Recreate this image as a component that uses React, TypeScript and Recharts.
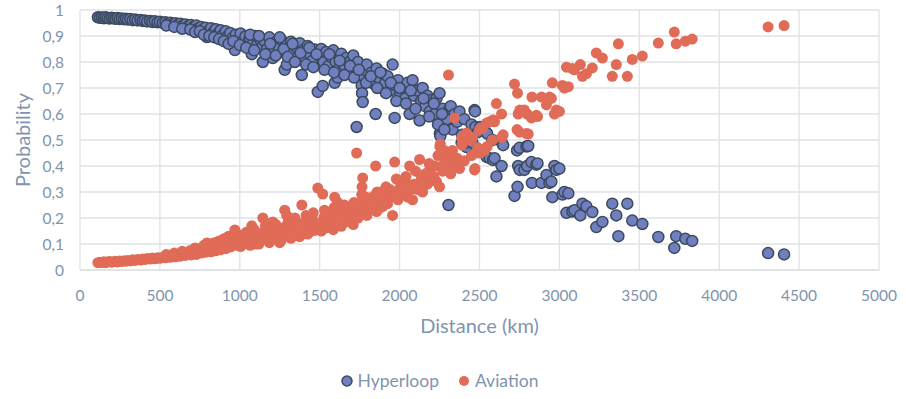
import { CartesianGrid, Legend, Scatter, ScatterChart, XAxis, YAxis } from "recharts";

// distance of each route (km), shared by both series
const distanceKm = [
  112, 125, 138, 150, 160, 172, 185, 198, 210, 222,
  235, 248, 262, 275, 288, 300, 315, 330, 345, 360,
  378, 392, 405, 420, 438, 452, 468, 485, 500, 518,
  535, 550, 565, 580, 598, 612, 628, 645, 660, 678,
  695, 712, 728, 742, 758, 770, 785, 794, 805, 820,
  835, 850, 865, 880, 895, 912, 925, 940, 955, 969,
  975, 990, 1005, 1020, 1035, 1050, 1062, 1075, 1085, 1098,
  1110, 1125, 1140, 1144, 1155, 1170, 1185, 1198, 1206, 1215,
  1230, 1245, 1260, 1270, 1281, 1290, 1294, 1310, 1320, 1335,
  1350, 1362, 1375, 1388, 1395, 1410, 1425, 1440, 1455, 1470,
  1488, 1495, 1510, 1519, 1525, 1540, 1555, 1570, 1585, 1594,
  1600, 1613, 1620, 1635, 1650, 1665, 1680, 1695, 1710, 1720,
  1731, 1740, 1750, 1763, 1765, 1769, 1780, 1795, 1810, 1825,
  1840, 1850, 1856, 1870, 1885, 1895, 1910, 1925, 1940, 1956,
  1969, 1975, 1990, 2005, 2020, 2035, 2050, 2063, 2081, 2090,
  2110, 2125, 2135, 2144, 2160, 2175, 2190, 2205, 2220, 2231,
  2250, 2252, 2255, 2270, 2285, 2294, 2298, 2306, 2313, 2320,
  2331, 2344, 2345, 2360, 2375, 2388, 2390, 2405, 2419, 2420,
  2438, 2450, 2456, 2469, 2472, 2475, 2490, 2500, 2505, 2519,
  2531, 2544, 2548, 2563, 2581, 2585, 2594, 2606, 2638, 2640,
  2648, 2719, 2735, 2738, 2742, 2750, 2752, 2781, 2794, 2798,
  2805, 2825, 2828, 2856, 2863, 2888, 2919, 2938, 2950, 2956,
  2969, 2981, 3000, 3019, 3031, 3044, 3056, 3081, 3094, 3131,
  3144, 3169, 3206, 3231, 3269, 3331, 3356, 3369, 3425, 3456,
  3519, 3619, 3719, 3731, 3788, 3831, 4306, 4406,
  540, 590, 640, 690, 720, 750, 775, 810, 840, 870,
  900, 930, 960, 1000, 1040, 1065, 1090, 1120, 1160, 1190,
  1225, 1250, 1275, 1300, 1330, 1345, 1380, 1415, 1435, 1460,
  1480, 1530, 1560, 1590, 1625, 1655, 1690, 1715, 1745, 1790,
  1820, 1860, 1880, 1915, 1945, 1980, 2000, 2040, 2070, 2100,
  2150, 2185, 2215, 2240, 2265, 2280,
];

const hyperloopProb = [
  0.972, 0.97, 0.971, 0.968, 0.972, 0.969, 0.967, 0.97, 0.968, 0.966,
  0.969, 0.965, 0.967, 0.964, 0.966, 0.963, 0.965, 0.961, 0.963, 0.96,
  0.962, 0.958, 0.96, 0.956, 0.958, 0.954, 0.957, 0.953, 0.955, 0.951,
  0.953, 0.948, 0.951, 0.946, 0.949, 0.943, 0.947, 0.941, 0.944, 0.938,
  0.942, 0.936, 0.94, 0.93, 0.935, 0.925, 0.932, 0.896, 0.92, 0.93,
  0.915, 0.926, 0.91, 0.922, 0.905, 0.918, 0.9, 0.912, 0.893, 0.846,
  0.905, 0.885, 0.91, 0.88, 0.898, 0.872, 0.892, 0.83, 0.878, 0.9,
  0.868, 0.888, 0.858, 0.8, 0.88, 0.85, 0.895, 0.862, 0.815, 0.84,
  0.878, 0.855, 0.885, 0.838, 0.77, 0.868, 0.79, 0.85, 0.878, 0.835,
  0.86, 0.82, 0.872, 0.75, 0.845, 0.815, 0.862, 0.83, 0.805, 0.848,
  0.685, 0.825, 0.85, 0.708, 0.8, 0.838, 0.785, 0.82, 0.845, 0.72,
  0.8, 0.74, 0.775, 0.832, 0.79, 0.815, 0.76, 0.805, 0.825, 0.78,
  0.55, 0.8, 0.745, 0.71, 0.68, 0.646, 0.77, 0.79, 0.735, 0.76,
  0.715, 0.6, 0.775, 0.74, 0.7, 0.755, 0.72, 0.745, 0.69, 0.79,
  0.585, 0.71, 0.73, 0.68, 0.7, 0.66, 0.72, 0.6, 0.73, 0.67,
  0.69, 0.575, 0.65, 0.7, 0.63, 0.67, 0.61, 0.655, 0.6, 0.66,
  0.68, 0.525, 0.515, 0.62, 0.58, 0.56, 0.58, 0.25, 0.62, 0.63,
  0.54, 0.415, 0.6, 0.57, 0.61, 0.49, 0.52, 0.58, 0.473, 0.49,
  0.5, 0.56, 0.49, 0.615, 0.61, 0.55, 0.53, 0.46, 0.55, 0.455,
  0.54, 0.435, 0.525, 0.43, 0.5, 0.423, 0.43, 0.36, 0.4, 0.49,
  0.48, 0.285, 0.46, 0.32, 0.4, 0.47, 0.385, 0.385, 0.475, 0.4,
  0.477, 0.415, 0.335, 0.405, 0.41, 0.335, 0.365, 0.335, 0.34, 0.28,
  0.4, 0.385, 0.39, 0.29, 0.3, 0.22, 0.295, 0.225, 0.23, 0.21,
  0.255, 0.245, 0.223, 0.165, 0.185, 0.255, 0.21, 0.13, 0.255, 0.19,
  0.177, 0.127, 0.085, 0.13, 0.12, 0.112, 0.065, 0.06,
  0.94, 0.935, 0.928, 0.925, 0.915, 0.918, 0.905, 0.9, 0.895, 0.888,
  0.88, 0.87, 0.88, 0.865, 0.855, 0.905, 0.845, 0.9, 0.83, 0.87,
  0.825, 0.895, 0.85, 0.82, 0.87, 0.8, 0.835, 0.79, 0.855, 0.78,
  0.83, 0.77, 0.83, 0.76, 0.805, 0.75, 0.785, 0.74, 0.77, 0.72,
  0.745, 0.7, 0.76, 0.68, 0.72, 0.65, 0.7, 0.64, 0.69, 0.62,
  0.66, 0.59, 0.64, 0.56, 0.6, 0.54,
];

const aviationProb = [
  0.028, 0.03, 0.029, 0.032, 0.028, 0.031, 0.033, 0.03, 0.032, 0.034,
  0.031, 0.035, 0.033, 0.036, 0.034, 0.037, 0.035, 0.039, 0.037, 0.04,
  0.038, 0.042, 0.04, 0.044, 0.042, 0.046, 0.043, 0.047, 0.045, 0.049,
  0.047, 0.052, 0.049, 0.054, 0.051, 0.057, 0.053, 0.059, 0.056, 0.062,
  0.058, 0.064, 0.06, 0.07, 0.065, 0.075, 0.068, 0.104, 0.08, 0.07,
  0.085, 0.074, 0.09, 0.078, 0.095, 0.082, 0.1, 0.088, 0.107, 0.154,
  0.095, 0.115, 0.09, 0.12, 0.102, 0.128, 0.108, 0.17, 0.122, 0.1,
  0.132, 0.112, 0.142, 0.2, 0.12, 0.15, 0.105, 0.138, 0.185, 0.16,
  0.122, 0.145, 0.115, 0.162, 0.23, 0.132, 0.21, 0.15, 0.122, 0.165,
  0.14, 0.18, 0.128, 0.25, 0.155, 0.185, 0.138, 0.17, 0.195, 0.152,
  0.315, 0.175, 0.15, 0.292, 0.2, 0.162, 0.215, 0.18, 0.155, 0.28,
  0.2, 0.26, 0.225, 0.168, 0.21, 0.185, 0.24, 0.195, 0.175, 0.22,
  0.45, 0.2, 0.255, 0.29, 0.32, 0.354, 0.23, 0.21, 0.265, 0.24,
  0.285, 0.4, 0.225, 0.26, 0.3, 0.245, 0.28, 0.255, 0.31, 0.21,
  0.415, 0.29, 0.27, 0.32, 0.3, 0.34, 0.28, 0.4, 0.27, 0.33,
  0.31, 0.425, 0.35, 0.3, 0.37, 0.33, 0.39, 0.345, 0.4, 0.34,
  0.32, 0.475, 0.485, 0.38, 0.42, 0.44, 0.42, 0.75, 0.38, 0.37,
  0.46, 0.585, 0.4, 0.43, 0.39, 0.51, 0.48, 0.42, 0.527, 0.51,
  0.5, 0.44, 0.51, 0.385, 0.39, 0.45, 0.47, 0.54, 0.45, 0.545,
  0.46, 0.565, 0.475, 0.57, 0.5, 0.577, 0.57, 0.64, 0.6, 0.51,
  0.52, 0.715, 0.54, 0.68, 0.6, 0.53, 0.615, 0.615, 0.525, 0.6,
  0.523, 0.585, 0.665, 0.595, 0.59, 0.665, 0.635, 0.665, 0.66, 0.72,
  0.6, 0.615, 0.61, 0.71, 0.7, 0.78, 0.705, 0.775, 0.77, 0.79,
  0.745, 0.755, 0.777, 0.835, 0.815, 0.745, 0.79, 0.87, 0.745, 0.81,
  0.823, 0.873, 0.915, 0.87, 0.88, 0.888, 0.935, 0.94,
  0.06, 0.065, 0.072, 0.075, 0.085, 0.082, 0.095, 0.1, 0.105, 0.112,
  0.12, 0.13, 0.12, 0.135, 0.145, 0.095, 0.155, 0.1, 0.17, 0.13,
  0.175, 0.105, 0.15, 0.18, 0.13, 0.2, 0.165, 0.21, 0.145, 0.22,
  0.17, 0.23, 0.17, 0.24, 0.195, 0.25, 0.215, 0.26, 0.23, 0.28,
  0.255, 0.3, 0.24, 0.32, 0.28, 0.35, 0.3, 0.36, 0.31, 0.38,
  0.34, 0.41, 0.36, 0.44, 0.4, 0.46,
];

const xTicks = [0, 500, 1000, 1500, 2000, 2500, 3000, 3500, 4000, 4500, 5000];
const yTicks = [0, 0.1, 0.2, 0.3, 0.4, 0.5, 0.6, 0.7, 0.8, 0.9, 1];

const font = "Lato, 'Noto Sans', sans-serif";
const textColor = "#8094ad";
const gridColor = "#dfe2e6";
const hyperloopFill = "#6f7fc0";
const hyperloopStroke = "#3b4a5c";
const aviationFill = "#e06b57";

const hyperloopData = distanceKm.map((d, i) => ({ distance: d, prob: hyperloopProb[i] }));
const aviationData = distanceKm.map((d, i) => ({ distance: d, prob: aviationProb[i] }));

function HyperloopDot(props: any) {
  return <circle cx={props.cx} cy={props.cy} r={5.5} fill={hyperloopFill} stroke={hyperloopStroke} strokeWidth={1.5} />;
}

function AviationDot(props: any) {
  return <circle cx={props.cx} cy={props.cy} r={5.5} fill={aviationFill} />;
}

function YTitle({ viewBox }: any) {
  const cx = viewBox.x + 22;
  const cy = viewBox.y + viewBox.height / 2;
  return (
    <text x={cx} y={cy} transform={`rotate(-90 ${cx} ${cy})`} textAnchor="middle" dominantBaseline="central" fill={textColor} fontSize={20} fontFamily={font}>
      Probability
    </text>
  );
}

function XTitle({ viewBox }: any) {
  const cx = viewBox.x + viewBox.width / 2;
  const cy = viewBox.y + 55;
  return (
    <text x={cx} y={cy} textAnchor="middle" dominantBaseline="central" fill={textColor} fontSize={20} fontFamily={font}>
      Distance (km)
    </text>
  );
}

function LegendContent() {
  const items = [
    { name: "Hyperloop", fill: hyperloopFill, stroke: hyperloopStroke },
    { name: "Aviation", fill: aviationFill, stroke: "none" },
  ];
  return (
    <div style={{ display: "flex", justifyContent: "center", alignItems: "center", gap: 19, paddingTop: 5, fontFamily: font, fontSize: 17.5, color: textColor }}>
      {items.map((item) => (
        <span key={item.name} style={{ display: "inline-flex", alignItems: "center", gap: 5 }}>
          <svg width={12} height={12}>
            <circle cx={6} cy={6} r={5} fill={item.fill} stroke={item.stroke} strokeWidth={1.5} />
          </svg>
          {item.name}
        </span>
      ))}
    </div>
  );
}

export default function App() {
  return (
    <div style={{ position: "absolute", left: 0, top: 0, width: 906, height: 399, background: "#fff" }}>
      <ScatterChart width={906} height={399} margin={{ top: 10, right: 27, left: 0, bottom: 4 }}>
        <CartesianGrid stroke={gridColor} strokeWidth={1.3} />
        <XAxis
          type="number"
          dataKey="distance"
          domain={[0, 5000]}
          ticks={xTicks}
          interval={0}
          height={95}
          tickSize={0}
          tickMargin={20}
          tickLine={false}
          axisLine={{ stroke: gridColor, strokeWidth: 1.3 }}
          tick={{ fill: textColor, fontSize: 15.5, fontFamily: font }}
          label={<XTitle />}
        />
        <YAxis
          type="number"
          dataKey="prob"
          domain={[0, 1]}
          ticks={yTicks}
          interval={0}
          width={80}
          tickSize={0}
          tickMargin={16}
          tickLine={false}
          axisLine={false}
          tickFormatter={(v: number) => String(v).replace(".", ",")}
          tick={{ fill: textColor, fontSize: 15.5, fontFamily: font }}
          label={<YTitle />}
        />
        <Legend verticalAlign="bottom" height={30} content={<LegendContent />} />
        <Scatter name="Hyperloop" data={hyperloopData} shape={<HyperloopDot />} isAnimationActive={false} />
        <Scatter name="Aviation" data={aviationData} shape={<AviationDot />} isAnimationActive={false} />
      </ScatterChart>
    </div>
  );
}
